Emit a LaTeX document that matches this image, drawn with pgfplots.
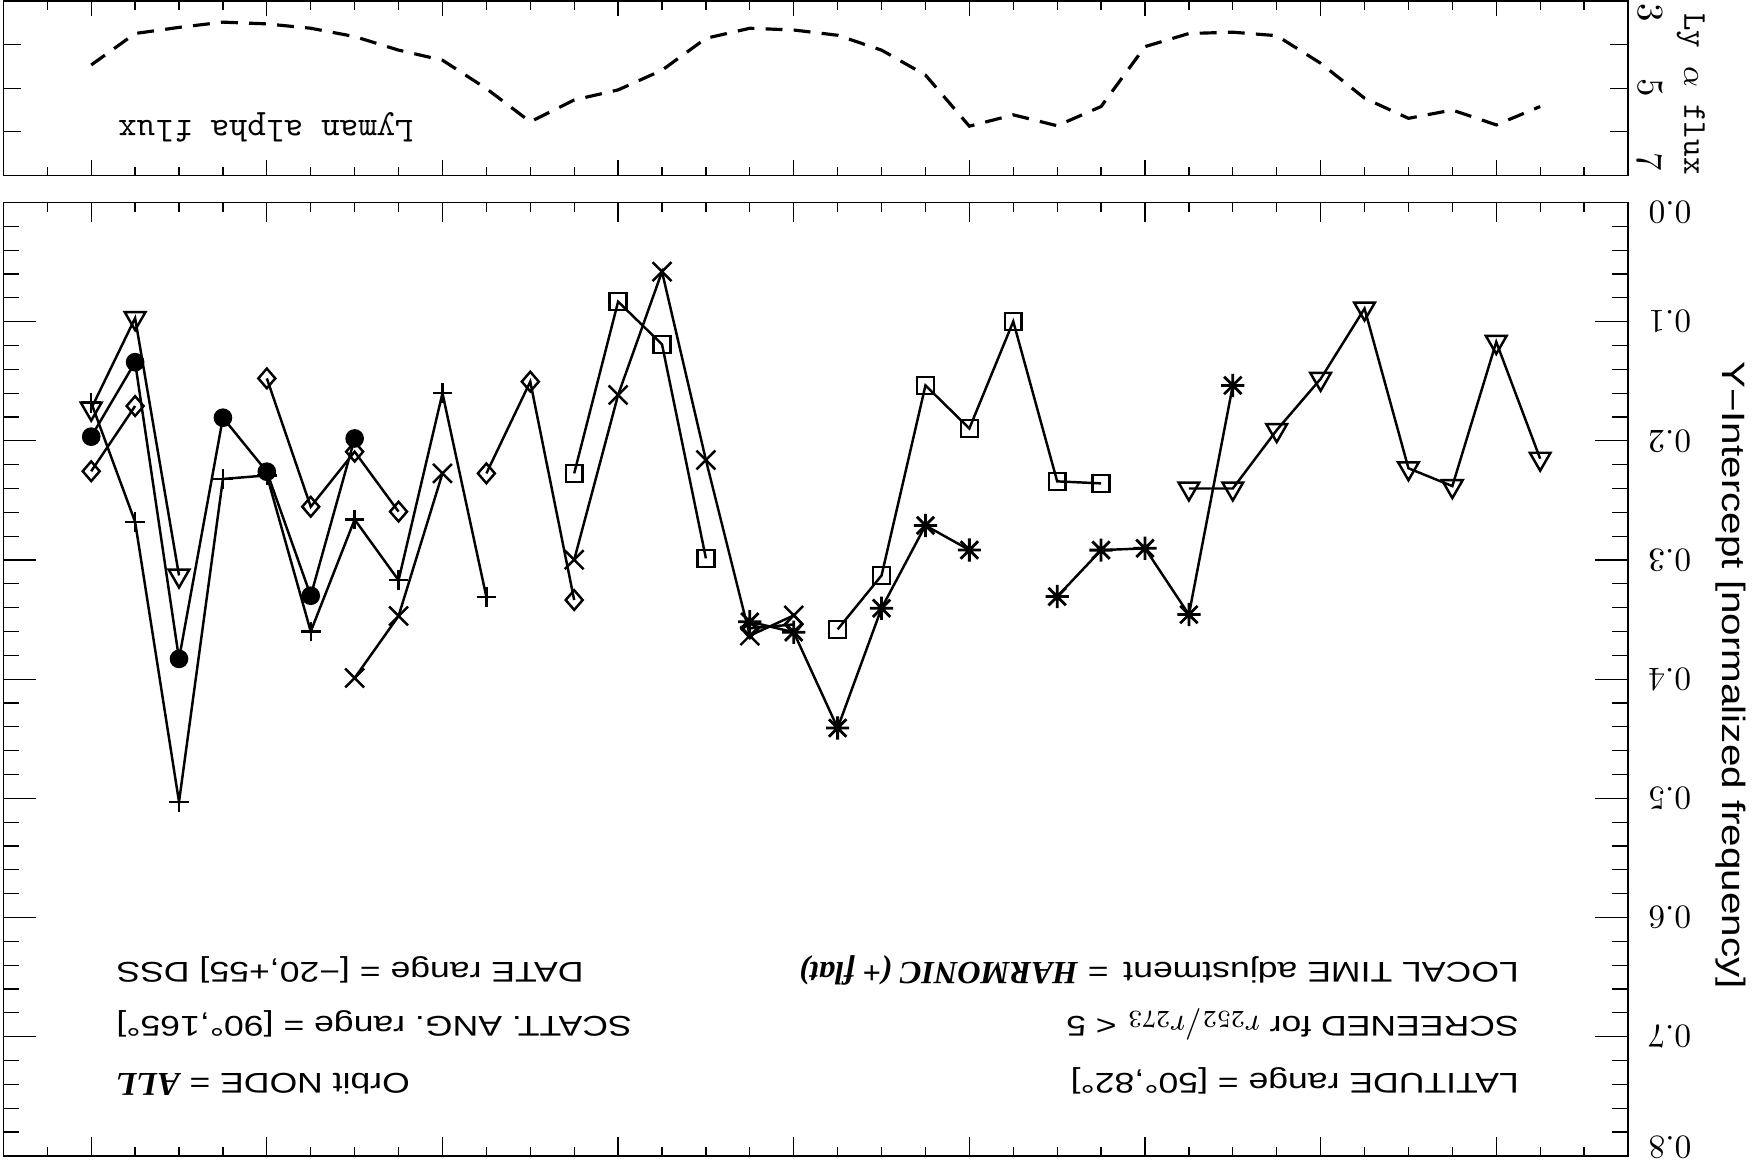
\documentclass[border=0pt]{standalone}
\usepackage{pgfplots}
\pgfplotsset{compat=1.18}
\usepackage{fontspec}
\usepackage{graphicx}
\newfontfamily\wsans[FakeStretch=1.25]{Liberation Sans}
\newfontfamily\lserif{Liberation Serif}

\pgfdeclareplotmark{ast8}{%
  \pgfpathmoveto{\pgfqpoint{0pt}{\pgfplotmarksize}}\pgfpathlineto{\pgfqpoint{0pt}{-\pgfplotmarksize}}%
  \pgfpathmoveto{\pgfqpoint{\pgfplotmarksize}{0pt}}\pgfpathlineto{\pgfqpoint{-\pgfplotmarksize}{0pt}}%
  \pgfpathmoveto{\pgfqpoint{.75\pgfplotmarksize}{.75\pgfplotmarksize}}\pgfpathlineto{\pgfqpoint{-.75\pgfplotmarksize}{-.75\pgfplotmarksize}}%
  \pgfpathmoveto{\pgfqpoint{-.75\pgfplotmarksize}{.75\pgfplotmarksize}}\pgfpathlineto{\pgfqpoint{.75\pgfplotmarksize}{-.75\pgfplotmarksize}}%
  \pgfusepathqstroke}

\begin{document}
\rotatebox{180}{%
\begin{tikzpicture}
\begin{axis}[
  at={(1.26cm,2.025cm)}, anchor=south west,
  width=16.246cm, height=9.533cm, scale only axis,
  xmin=0, xmax=37, ymin=0, ymax=0.8,
  xtick={3,7,...,35}, xticklabels={},
  minor xtick={0,...,37},
  ytick={0,0.1,0.2,0.3,0.4,0.5,0.6,0.7,0.8},
  yticklabels={,0.1,0.2,0.3,0.4,0.5,0.6,0.7,},
  minor ytick={0,0.02,...,0.81},
  tick align=inside,
  xtick style={black,line width=0.35pt,/pgfplots/major tick length=0.19cm,/pgfplots/minor tick length=0.093cm},
  ytick style={black,line width=0.35pt,/pgfplots/major tick length=0.33cm,/pgfplots/minor tick length=0.16cm},
  axis line style={line width=0.5pt},
  yticklabel style={font=\fontsize{9.5}{11}\selectfont, xshift=-0.08cm},
  clip=false,
  unbounded coords=jump,
]
% open triangles
\addplot[black, line width=0.7pt, mark=triangle, mark size=3.4pt, mark options={solid,line width=0.7pt}]
 coordinates {(35,0.173)(34,0.097)(33,0.313)(32.5,nan)(10,0.240)(9,0.240)(8,0.191)(7,0.148)(6,0.089)(5,0.223)(4,0.238)(3,0.117)(2,0.215)};
% filled circles
\addplot[black, line width=0.7pt, mark=*, mark size=2.3pt, mark options={solid}]
 coordinates {(35,0.1965)(34,0.134)(33,0.383)(32,0.1806)(31,0.2259)(30,0.330)(29,0.198)};
% plus
\addplot[black, line width=0.7pt, mark=+, mark size=2.8pt, mark options={solid,line width=0.7pt}]
 coordinates {(35,0.168)(34,0.268)(33,0.503)(32,0.232)(31,0.229)(30,0.360)(29,0.266)(28,0.317)(27,0.160)(26,0.331)};
% diamonds
\addplot[black, line width=0.7pt, mark=diamond, mark size=2.8pt, mark options={solid,line width=0.7pt,xscale=1.15}]
 coordinates {(35,0.2255)(34,0.1708)(33,nan)(31,0.1476)(30,0.2553)(29,0.2091)(28,0.2594)(27,nan)(26,0.2273)(25,0.1503)(24,0.3336)(23,nan)(20,0.3573)(19,0.3541)};
% crosses
\addplot[black, line width=0.7pt, mark=x, mark size=3.8pt, mark options={solid,line width=0.7pt}]
 coordinates {(29,0.399)(28,0.347)(27,0.2273)(26,nan)(24,0.2998)(23,0.1615)(22,0.058)(21,0.2161)(20,0.3635)(19,0.3465)};
% squares
\addplot[black, line width=0.7pt, mark=square, mark size=2.4pt, mark options={solid,line width=0.7pt}]
 coordinates {(24,0.2273)(23,0.0832)(22,0.119)(21,0.2986)(20,nan)(18,0.3582)(17,0.313)(16,0.1535)(15,0.1896)(14,0.0998)(13,0.234)(12,0.2357)};
% asterisks
\addplot[black, line width=0.7pt, mark=ast8, mark size=3.3pt, mark options={solid,line width=0.8pt}]
 coordinates {(20,0.3518)(19,0.3606)(18,0.441)(17,0.3405)(16,0.271)(15,0.2916)(14,nan)(13,0.3307)(12,0.2917)(11,0.2902)(10,0.3458)(9,0.1535)};

\begin{scope}[every node/.style={font=\wsans\fontsize{8.1}{9}\selectfont, inner sep=0pt}]
\node[anchor=base west] at (axis cs:2.47,0.731) {LATITUDE range = [50°,82°]};
\node[anchor=base west] at (axis cs:2.47,0.683) {SCREENED for {\fontsize{9.3}{11}\selectfont$r_{252}/r_{273}$} < 5};
\node[anchor=base west] at (axis cs:2.47,0.6376) {LOCAL TIME adjustment\, = {\lserif\bfseries\itshape\fontsize{9.2}{10}\selectfont HARMONIC (+ flat)}};
\node[anchor=base east] at (axis cs:34.44,0.731) {Orbit NODE = {\lserif\bfseries\itshape\fontsize{9.5}{11}\selectfont ALL}};
\node[anchor=base east] at (axis cs:34.44,0.683) {SCATT. ANG. range = [90°,165°]};
\node[anchor=base east] at (axis cs:34.44,0.6376) {DATE range = [−20,+55] DSS};
\end{scope}
\end{axis}

\begin{axis}[
  at={(1.26cm,0.007cm)}, anchor=south west,
  width=16.246cm, height=1.749cm, scale only axis,
  xmin=0, xmax=37, ymin=3, ymax=7,
  xtick={3,7,...,35}, xticklabels={},
  minor xtick={0,...,37},
  ytick={4,5,6}, yticklabels={},
  tick align=inside,
  xtick style={black,line width=0.35pt,/pgfplots/major tick length=0.157cm,/pgfplots/minor tick length=0.09cm},
  ytick style={black,line width=0.35pt,/pgfplots/major tick length=0.18cm},
  axis line style={line width=0.5pt},
  clip=false,
]
\addplot[black, line width=0.9pt, dash pattern=on 4.8pt off 3.2pt]
 coordinates {(35,4.47)(34,3.75)(33,3.61)(32,3.49)(31,3.53)(30,3.63)(29,3.82)(28,4.13)(27,4.36)(26,5.01)(25,5.77)(24,5.27)(23,5.04)(22,4.59)(21,3.86)(20,3.63)(19,3.67)(18,3.79)(17,4.13)(16,4.70)(15,5.87)(14,5.61)(13,5.86)(12,5.42)(11,4.05)(10,3.75)(9,3.72)(8,3.80)(7,4.43)(6,5.23)(5,5.69)(4,5.50)(3,5.84)(2,5.42)};
\node[anchor=base east, inner sep=0pt, font=\ttfamily\fontsize{10}{12}\selectfont] at (axis cs:34.4,5.73) {Lyman alpha flux};
\end{axis}

% labels in canvas coordinates
\node[rotate=90, font=\wsans\fontsize{9.2}{11}\selectfont, inner sep=0pt] at (0.23,6.75) {Y−Intercept [normalized frequency]};
\node[anchor=east, inner sep=0pt, font=\fontsize{9.5}{11}\selectfont] at (1.06,2.125) {0.0};
\node[anchor=east, inner sep=0pt, font=\fontsize{9.5}{11}\selectfont] at (1.06,11.47) {0.8};
\node[rotate=90, inner sep=0pt, font=\fontsize{10.5}{12}\selectfont] at (1.04,0.13) {3};
\node[rotate=90, inner sep=0pt, font=\fontsize{10.5}{12}\selectfont] at (1.04,0.88) {5};
\node[rotate=90, inner sep=0pt, font=\fontsize{10.5}{12}\selectfont] at (1.04,1.62) {7};
\node[rotate=90, inner sep=0pt, font=\ttfamily\fontsize{9.5}{11}\selectfont] at (0.63,0.94) {Ly $\alpha$ flux};

\pgfresetboundingbox
\path[use as bounding box] (0,0) rectangle (17.54,11.65);
\end{tikzpicture}}
\end{document}
